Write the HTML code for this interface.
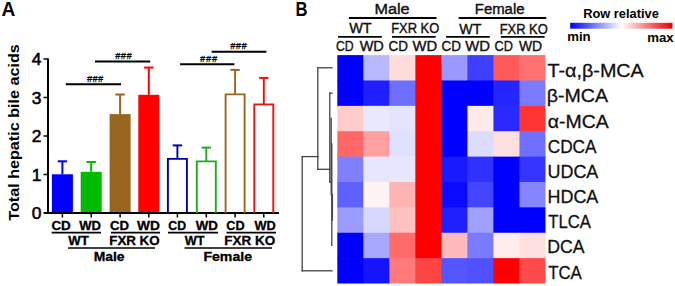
<!DOCTYPE html>
<html><head><meta charset="utf-8"><style>
html,body{margin:0;padding:0;background:#fff;}
svg{display:block;}
text{font-family:"Liberation Sans",sans-serif;fill:#000;}
.tk{font-size:17.4px;stroke:#000;stroke-width:0.55px;}
.xl{font-size:12.1px;font-weight:bold;stroke:#000;stroke-width:0.3px;}
.hs{font-size:9px;font-style:italic;stroke:#000;stroke-width:0.3px;}
.pl{font-size:19.8px;font-weight:bold;}
.yl{font-size:15.5px;font-weight:bold;}
.rl{font-size:18.8px;stroke:#111;stroke-width:0.3px;}
.hb{font-size:15.1px;stroke:#111;stroke-width:0.4px;}
.lg{font-size:12px;font-weight:bold;}
.rl,.hb{fill:#111;}
</style></head><body>
<svg width="675" height="286" viewBox="0 0 675 286">
<rect width="675" height="286" fill="#fff"/>
<line x1="48" y1="58.5" x2="48" y2="214" stroke="#000" stroke-width="2"/>
<line x1="44" y1="213" x2="279" y2="213" stroke="#000" stroke-width="2"/>
<line x1="43.5" y1="213.0" x2="48" y2="213.0" stroke="#000" stroke-width="1.5"/>
<text x="41.3" y="219.1" class="tk" text-anchor="end">0</text>
<line x1="43.5" y1="174.5" x2="48" y2="174.5" stroke="#000" stroke-width="1.5"/>
<text x="41.3" y="180.6" class="tk" text-anchor="end">1</text>
<line x1="43.5" y1="136.0" x2="48" y2="136.0" stroke="#000" stroke-width="1.5"/>
<text x="41.3" y="142.1" class="tk" text-anchor="end">2</text>
<line x1="43.5" y1="97.5" x2="48" y2="97.5" stroke="#000" stroke-width="1.5"/>
<text x="41.3" y="103.6" class="tk" text-anchor="end">3</text>
<line x1="43.5" y1="59.0" x2="48" y2="59.0" stroke="#000" stroke-width="1.5"/>
<text x="41.3" y="65.1" class="tk" text-anchor="end">4</text>
<line x1="62.4" y1="213" x2="62.4" y2="217.5" stroke="#000" stroke-width="1.5"/>
<rect x="51.9" y="174.3" width="21.0" height="37.7" fill="#0000ff"/>
<line x1="62.4" y1="161.3" x2="62.4" y2="174.3" stroke="#0000ff" stroke-width="2"/>
<line x1="57.7" y1="161.3" x2="67.1" y2="161.3" stroke="#0000ff" stroke-width="2"/>
<line x1="91.2" y1="213" x2="91.2" y2="217.5" stroke="#000" stroke-width="1.5"/>
<rect x="80.7" y="171.8" width="21.0" height="40.2" fill="#00bb00"/>
<line x1="91.2" y1="162.0" x2="91.2" y2="171.8" stroke="#00bb00" stroke-width="2"/>
<line x1="86.5" y1="162.0" x2="95.9" y2="162.0" stroke="#00bb00" stroke-width="2"/>
<line x1="120.1" y1="213" x2="120.1" y2="217.5" stroke="#000" stroke-width="1.5"/>
<rect x="109.6" y="114.1" width="21.0" height="97.9" fill="#99661f"/>
<line x1="120.1" y1="94.5" x2="120.1" y2="114.1" stroke="#99661f" stroke-width="2"/>
<line x1="115.4" y1="94.5" x2="124.8" y2="94.5" stroke="#99661f" stroke-width="2"/>
<line x1="148.8" y1="213" x2="148.8" y2="217.5" stroke="#000" stroke-width="1.5"/>
<rect x="138.3" y="94.8" width="21.0" height="117.2" fill="#ff0000"/>
<line x1="148.8" y1="67.6" x2="148.8" y2="94.8" stroke="#ff0000" stroke-width="2"/>
<line x1="144.1" y1="67.6" x2="153.5" y2="67.6" stroke="#ff0000" stroke-width="2"/>
<line x1="177.4" y1="213" x2="177.4" y2="217.5" stroke="#000" stroke-width="1.5"/>
<path d="M167.9,213 V158.9 H186.9 V213" fill="none" stroke="#0000aa" stroke-width="1.9"/>
<line x1="177.4" y1="145.4" x2="177.4" y2="158.9" stroke="#0000aa" stroke-width="1.9"/>
<line x1="172.7" y1="145.4" x2="182.1" y2="145.4" stroke="#0000aa" stroke-width="2"/>
<line x1="206.3" y1="213" x2="206.3" y2="217.5" stroke="#000" stroke-width="1.5"/>
<path d="M196.8,213 V161.4 H215.8 V213" fill="none" stroke="#22aa22" stroke-width="1.9"/>
<line x1="206.3" y1="147.6" x2="206.3" y2="161.4" stroke="#22aa22" stroke-width="1.9"/>
<line x1="201.6" y1="147.6" x2="211.0" y2="147.6" stroke="#22aa22" stroke-width="2"/>
<line x1="235.1" y1="213" x2="235.1" y2="217.5" stroke="#000" stroke-width="1.5"/>
<path d="M225.6,213 V94.4 H244.6 V213" fill="none" stroke="#996622" stroke-width="1.9"/>
<line x1="235.1" y1="69.9" x2="235.1" y2="94.4" stroke="#996622" stroke-width="1.9"/>
<line x1="230.4" y1="69.9" x2="239.8" y2="69.9" stroke="#996622" stroke-width="2"/>
<line x1="263.8" y1="213" x2="263.8" y2="217.5" stroke="#000" stroke-width="1.5"/>
<path d="M254.3,213 V104.4 H273.3 V213" fill="none" stroke="#ee1111" stroke-width="1.9"/>
<line x1="263.8" y1="77.9" x2="263.8" y2="104.4" stroke="#ee1111" stroke-width="1.9"/>
<line x1="259.1" y1="77.9" x2="268.5" y2="77.9" stroke="#ee1111" stroke-width="2"/>
<line x1="65.8" y1="84.2" x2="121" y2="84.2" stroke="#000" stroke-width="2"/>
<line x1="95" y1="61.4" x2="150.2" y2="61.4" stroke="#000" stroke-width="2"/>
<line x1="180.1" y1="64.2" x2="234.4" y2="64.2" stroke="#000" stroke-width="2"/>
<line x1="211.6" y1="51.7" x2="266.4" y2="51.7" stroke="#000" stroke-width="2"/>
<line x1="51.7" y1="232.6" x2="101" y2="232.6" stroke="#000" stroke-width="1.6"/>
<line x1="111" y1="232.6" x2="160" y2="232.6" stroke="#000" stroke-width="1.6"/>
<line x1="168" y1="232.6" x2="218" y2="232.6" stroke="#000" stroke-width="1.6"/>
<line x1="226.6" y1="232.6" x2="276" y2="232.6" stroke="#000" stroke-width="1.6"/>
<line x1="68" y1="248" x2="155" y2="248" stroke="#000" stroke-width="1.6"/>
<line x1="184.5" y1="248" x2="272" y2="248" stroke="#000" stroke-width="1.6"/>
<rect x="337.30" y="55.10" width="26.72" height="26.08" fill="#0000ff"/>
<rect x="363.32" y="55.10" width="26.72" height="26.08" fill="#b8b8ff"/>
<rect x="389.34" y="55.10" width="26.72" height="26.08" fill="#ffdcdc"/>
<rect x="415.36" y="55.10" width="26.72" height="26.08" fill="#ff0000"/>
<rect x="441.38" y="55.10" width="26.72" height="26.08" fill="#9999ff"/>
<rect x="467.40" y="55.10" width="26.72" height="26.08" fill="#3f3fff"/>
<rect x="493.42" y="55.10" width="26.72" height="26.08" fill="#ff5a5a"/>
<rect x="519.44" y="55.10" width="26.02" height="26.08" fill="#ff7070"/>
<rect x="337.30" y="80.48" width="26.72" height="26.08" fill="#0000ff"/>
<rect x="363.32" y="80.48" width="26.72" height="26.08" fill="#2020ff"/>
<rect x="389.34" y="80.48" width="26.72" height="26.08" fill="#6f6fff"/>
<rect x="415.36" y="80.48" width="26.72" height="26.08" fill="#ff0000"/>
<rect x="441.38" y="80.48" width="26.72" height="26.08" fill="#0000ff"/>
<rect x="467.40" y="80.48" width="26.72" height="26.08" fill="#0000ff"/>
<rect x="493.42" y="80.48" width="26.72" height="26.08" fill="#2525ff"/>
<rect x="519.44" y="80.48" width="26.02" height="26.08" fill="#7b7bff"/>
<rect x="337.30" y="105.86" width="26.72" height="26.08" fill="#ffcccc"/>
<rect x="363.32" y="105.86" width="26.72" height="26.08" fill="#e8e8ff"/>
<rect x="389.34" y="105.86" width="26.72" height="26.08" fill="#e4e4ff"/>
<rect x="415.36" y="105.86" width="26.72" height="26.08" fill="#ff0000"/>
<rect x="441.38" y="105.86" width="26.72" height="26.08" fill="#0000ff"/>
<rect x="467.40" y="105.86" width="26.72" height="26.08" fill="#ffeaea"/>
<rect x="493.42" y="105.86" width="26.72" height="26.08" fill="#2a2aff"/>
<rect x="519.44" y="105.86" width="26.02" height="26.08" fill="#ff3535"/>
<rect x="337.30" y="131.24" width="26.72" height="26.08" fill="#ff6666"/>
<rect x="363.32" y="131.24" width="26.72" height="26.08" fill="#ffa0a0"/>
<rect x="389.34" y="131.24" width="26.72" height="26.08" fill="#e0e0ff"/>
<rect x="415.36" y="131.24" width="26.72" height="26.08" fill="#ff0000"/>
<rect x="441.38" y="131.24" width="26.72" height="26.08" fill="#0000ff"/>
<rect x="467.40" y="131.24" width="26.72" height="26.08" fill="#dcdcff"/>
<rect x="493.42" y="131.24" width="26.72" height="26.08" fill="#ffe0e0"/>
<rect x="519.44" y="131.24" width="26.02" height="26.08" fill="#7070ff"/>
<rect x="337.30" y="156.62" width="26.72" height="26.08" fill="#8080ff"/>
<rect x="363.32" y="156.62" width="26.72" height="26.08" fill="#e6e6ff"/>
<rect x="389.34" y="156.62" width="26.72" height="26.08" fill="#e6e6ff"/>
<rect x="415.36" y="156.62" width="26.72" height="26.08" fill="#ff0000"/>
<rect x="441.38" y="156.62" width="26.72" height="26.08" fill="#1a1aff"/>
<rect x="467.40" y="156.62" width="26.72" height="26.08" fill="#3030ff"/>
<rect x="493.42" y="156.62" width="26.72" height="26.08" fill="#0000ff"/>
<rect x="519.44" y="156.62" width="26.02" height="26.08" fill="#3535ff"/>
<rect x="337.30" y="182.00" width="26.72" height="26.08" fill="#6060ff"/>
<rect x="363.32" y="182.00" width="26.72" height="26.08" fill="#fff4f4"/>
<rect x="389.34" y="182.00" width="26.72" height="26.08" fill="#ffb4b4"/>
<rect x="415.36" y="182.00" width="26.72" height="26.08" fill="#ff0000"/>
<rect x="441.38" y="182.00" width="26.72" height="26.08" fill="#0a0aff"/>
<rect x="467.40" y="182.00" width="26.72" height="26.08" fill="#4545ff"/>
<rect x="493.42" y="182.00" width="26.72" height="26.08" fill="#0000ff"/>
<rect x="519.44" y="182.00" width="26.02" height="26.08" fill="#8585ff"/>
<rect x="337.30" y="207.38" width="26.72" height="26.08" fill="#9a9aff"/>
<rect x="363.32" y="207.38" width="26.72" height="26.08" fill="#d8d8ff"/>
<rect x="389.34" y="207.38" width="26.72" height="26.08" fill="#ffc0c0"/>
<rect x="415.36" y="207.38" width="26.72" height="26.08" fill="#ff0000"/>
<rect x="441.38" y="207.38" width="26.72" height="26.08" fill="#2020ff"/>
<rect x="467.40" y="207.38" width="26.72" height="26.08" fill="#a0a0ff"/>
<rect x="493.42" y="207.38" width="26.72" height="26.08" fill="#0000ff"/>
<rect x="519.44" y="207.38" width="26.02" height="26.08" fill="#0000ff"/>
<rect x="337.30" y="232.76" width="26.72" height="26.08" fill="#0000ff"/>
<rect x="363.32" y="232.76" width="26.72" height="26.08" fill="#a8a8ff"/>
<rect x="389.34" y="232.76" width="26.72" height="26.08" fill="#ff6a6a"/>
<rect x="415.36" y="232.76" width="26.72" height="26.08" fill="#ff0000"/>
<rect x="441.38" y="232.76" width="26.72" height="26.08" fill="#ffbbbb"/>
<rect x="467.40" y="232.76" width="26.72" height="26.08" fill="#7a7aff"/>
<rect x="493.42" y="232.76" width="26.72" height="26.08" fill="#ffecec"/>
<rect x="519.44" y="232.76" width="26.02" height="26.08" fill="#ffe0e0"/>
<rect x="337.30" y="258.14" width="26.72" height="25.38" fill="#0000ff"/>
<rect x="363.32" y="258.14" width="26.72" height="25.38" fill="#1414ff"/>
<rect x="389.34" y="258.14" width="26.72" height="25.38" fill="#ff7a7a"/>
<rect x="415.36" y="258.14" width="26.72" height="25.38" fill="#ff4444"/>
<rect x="441.38" y="258.14" width="26.72" height="25.38" fill="#5555ff"/>
<rect x="467.40" y="258.14" width="26.72" height="25.38" fill="#5050ff"/>
<rect x="493.42" y="258.14" width="26.72" height="25.38" fill="#ff0000"/>
<rect x="519.44" y="258.14" width="26.02" height="25.38" fill="#ff4a4a"/>
<g stroke="#444" stroke-width="1.3" fill="none" stroke-linecap="square">
<line x1="302.2" y1="156.6" x2="302.2" y2="270.8"/>
<line x1="302.2" y1="270.8" x2="332.0" y2="270.8"/>
<line x1="302.2" y1="156.6" x2="317.8" y2="156.6"/>
<line x1="317.8" y1="67.8" x2="317.8" y2="169.3"/>
<line x1="317.8" y1="67.8" x2="332.0" y2="67.8"/>
<line x1="317.8" y1="169.3" x2="329.8" y2="169.3"/>
<line x1="329.8" y1="93.2" x2="329.8" y2="182.0"/>
<line x1="329.8" y1="93.2" x2="332.0" y2="93.2"/>
<line x1="329.8" y1="182.0" x2="331.2" y2="182.0"/>
<line x1="331.2" y1="118.5" x2="331.2" y2="194.7"/>
<line x1="331.8" y1="143.9" x2="331.8" y2="245.4"/>
<line x1="332.4" y1="194.7" x2="332.4" y2="220.1"/>
</g>
<line x1="348.9" y1="18" x2="436.5" y2="18" stroke="#000" stroke-width="1.8"/>
<line x1="458.7" y1="18" x2="546.3" y2="18" stroke="#000" stroke-width="1.8"/>
<line x1="338.1" y1="36.8" x2="381.8" y2="36.8" stroke="#000" stroke-width="1.8"/>
<line x1="392" y1="36.8" x2="435.7" y2="36.8" stroke="#000" stroke-width="1.8"/>
<line x1="446.1" y1="36.8" x2="489.8" y2="36.8" stroke="#000" stroke-width="1.8"/>
<line x1="500.9" y1="36.8" x2="544.6" y2="36.8" stroke="#000" stroke-width="1.8"/>
<defs><linearGradient id="g" x1="0" x2="1" y1="0" y2="0"><stop offset="0" stop-color="#0000f0"/><stop offset="0.5" stop-color="#ffffff"/><stop offset="1" stop-color="#e80000"/></linearGradient></defs>
<rect x="570.2" y="22.8" width="102.3" height="5.9" fill="url(#g)"/>
<text x="51.42" y="229.8" class="xl" textLength="19.42" lengthAdjust="spacingAndGlyphs">CD</text>
<text x="79.27" y="229.8" class="xl" textLength="21.77" lengthAdjust="spacingAndGlyphs">WD</text>
<text x="110.03" y="229.8" class="xl" textLength="19.11" lengthAdjust="spacingAndGlyphs">CD</text>
<text x="136.98" y="229.8" class="xl" textLength="22.88" lengthAdjust="spacingAndGlyphs">WD</text>
<text x="168.35" y="229.8" class="xl" textLength="17.78" lengthAdjust="spacingAndGlyphs">CD</text>
<text x="195.78" y="229.8" class="xl" textLength="22.17" lengthAdjust="spacingAndGlyphs">WD</text>
<text x="226.34" y="229.8" class="xl" textLength="18.29" lengthAdjust="spacingAndGlyphs">CD</text>
<text x="254.56" y="229.8" class="xl" textLength="21.26" lengthAdjust="spacingAndGlyphs">WD</text>
<text x="68.27" y="245" class="xl" textLength="20.52" lengthAdjust="spacingAndGlyphs">WT</text>
<text x="109.25" y="245" class="xl" textLength="50.38" lengthAdjust="spacingAndGlyphs">FXR KO</text>
<text x="184.76" y="245" class="xl" textLength="19.84" lengthAdjust="spacingAndGlyphs">WT</text>
<text x="224.34" y="245" class="xl" textLength="50.88" lengthAdjust="spacingAndGlyphs">FXR KO</text>
<text x="93.73" y="260.5" class="xl" textLength="30.83" lengthAdjust="spacingAndGlyphs">Male</text>
<text x="203.42" y="260.5" class="xl" textLength="48.60" lengthAdjust="spacingAndGlyphs">Female</text>
<text x="374.42" y="14.0" class="hb" textLength="35.18" lengthAdjust="spacingAndGlyphs">Male</text>
<text x="474.81" y="14.0" class="hb" textLength="49.73" lengthAdjust="spacingAndGlyphs">Female</text>
<text x="349.14" y="33.2" class="hb" textLength="22.53" lengthAdjust="spacingAndGlyphs">WT</text>
<text x="391.14" y="33.2" class="hb" textLength="48.14" lengthAdjust="spacingAndGlyphs">FXR KO</text>
<text x="459.24" y="33.6" class="hb" textLength="22.13" lengthAdjust="spacingAndGlyphs">WT</text>
<text x="499.64" y="33.8" class="hb" textLength="48.14" lengthAdjust="spacingAndGlyphs">FXR KO</text>
<text x="335.90" y="51.2" class="hb" textLength="17.66" lengthAdjust="spacingAndGlyphs">CD</text>
<text x="359.64" y="51.2" class="hb" textLength="24.25" lengthAdjust="spacingAndGlyphs">WD</text>
<text x="388.45" y="51.2" class="hb" textLength="19.45" lengthAdjust="spacingAndGlyphs">CD</text>
<text x="412.55" y="51.2" class="hb" textLength="24.65" lengthAdjust="spacingAndGlyphs">WD</text>
<text x="441.45" y="51.2" class="hb" textLength="19.45" lengthAdjust="spacingAndGlyphs">CD</text>
<text x="465.15" y="51.2" class="hb" textLength="24.75" lengthAdjust="spacingAndGlyphs">WD</text>
<text x="494.48" y="51.2" class="hb" textLength="18.40" lengthAdjust="spacingAndGlyphs">CD</text>
<text x="518.93" y="51.2" class="hb" textLength="23.24" lengthAdjust="spacingAndGlyphs">WD</text>
<text x="583.20" y="17.9" class="lg" textLength="75.59" lengthAdjust="spacingAndGlyphs">Row relative</text>
<text x="567.17" y="41.2" class="lg" textLength="23.48" lengthAdjust="spacingAndGlyphs">min</text>
<text x="647.17" y="41.8" class="lg" textLength="26.46" lengthAdjust="spacingAndGlyphs">max</text>
<text x="547.44" y="77.2" class="rl" textLength="96.37" lengthAdjust="spacingAndGlyphs">T-α,β-MCA</text>
<text x="546.66" y="102.38" class="rl" textLength="61.33" lengthAdjust="spacingAndGlyphs">β-MCA</text>
<text x="547.88" y="127.56" class="rl" textLength="60.97" lengthAdjust="spacingAndGlyphs">α-MCA</text>
<text x="547.71" y="152.74" class="rl" textLength="48.83" lengthAdjust="spacingAndGlyphs">CDCA</text>
<text x="547.51" y="177.92000000000002" class="rl" textLength="50.83" lengthAdjust="spacingAndGlyphs">UDCA</text>
<text x="547.51" y="203.10000000000002" class="rl" textLength="50.83" lengthAdjust="spacingAndGlyphs">HDCA</text>
<text x="548.18" y="228.27999999999997" class="rl" textLength="42.71" lengthAdjust="spacingAndGlyphs">TLCA</text>
<text x="547.22" y="253.45999999999998" class="rl" textLength="37.29" lengthAdjust="spacingAndGlyphs">DCA</text>
<text x="548.18" y="278.64" class="rl" textLength="33.66" lengthAdjust="spacingAndGlyphs">TCA</text>
<text x="1.42" y="15.5" class="pl" textLength="13.81" lengthAdjust="spacingAndGlyphs">A</text>
<text x="295.45" y="15.5" class="pl" textLength="12.02" lengthAdjust="spacingAndGlyphs">B</text>
<text x="86.90" y="81.9" class="hs" textLength="16.16" lengthAdjust="spacing">###</text>
<text x="115.20" y="58.6" class="hs" textLength="16.36" lengthAdjust="spacing">###</text>
<text x="200.10" y="62.3" class="hs" textLength="16.95" lengthAdjust="spacing">###</text>
<text x="230.20" y="49" class="hs" textLength="16.36" lengthAdjust="spacing">###</text>
<text transform="translate(19.3,220.70) rotate(-90)" class="yl" textLength="176.48" lengthAdjust="spacingAndGlyphs">Total hepatic bile acids</text>
</svg>
</body></html>
